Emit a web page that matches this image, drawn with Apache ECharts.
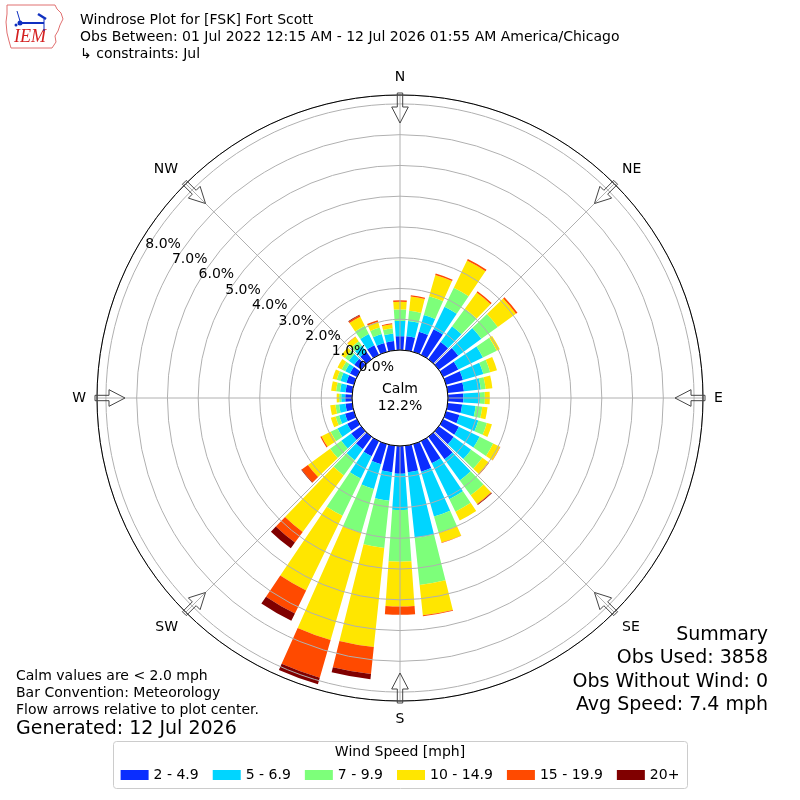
<!DOCTYPE html>
<html>
<head>
<meta charset="utf-8">
<script src="https://cdn.jsdelivr.net/npm/echarts@6/dist/echarts.min.js"></script>
<style>
html, body { margin: 0; background: #fff; }
#main { width: 800px; height: 800px; }
</style>
</head>
<body>
<div id="main"></div>
<script>
// directions (degrees, where the wind comes from)
var dirs = ['0','10','20','30','40','50','60','70','80','90','100','110',
            '120','130','140','150','160','170','180','190','200','210','220','230',
            '240','250','260','270','280','290','300','310','320','330','340','350'];

var speedBins = ['2 - 4.9', '5 - 6.9', '7 - 9.9', '10 - 14.9', '15 - 19.9', '20+'];
var binColors = ['#0a2dff', '#00d5ff', '#7dff7a', '#ffe600', '#ff4a00', '#800000'];

// percent of observations per direction, one array per speed bin
var s2to5 = [0.45,0.46,0.68,0.93,0.69,0.78,0.55,0.57,0.53,0.50,0.47,0.45,
             0.57,0.60,0.90,0.80,0.93,0.87,0.90,0.87,0.68,0.55,0.50,0.40,
             0.35,0.30,0.22,0.22,0.22,0.25,0.25,0.28,0.30,0.35,0.30,0.30];
var s5to7 = [0.50,0.50,0.57,0.81,0.63,0.93,0.89,0.69,0.55,0.54,0.44,0.64,
             0.75,0.70,0.85,1.30,1.52,2.14,1.18,0.93,0.84,0.80,0.44,0.40,
             0.35,0.20,0.21,0.13,0.18,0.20,0.17,0.22,0.25,0.40,0.30,0.25];
var s7to10 = [0.37,0.33,0.63,0.69,0.71,0.66,0.50,0.23,0.16,0.16,0.22,0.29,
              0.49,0.45,0.60,0.45,0.55,1.54,1.68,1.54,1.48,1.35,0.61,0.45,
              0.25,0.12,0.12,0.07,0.13,0.13,0.13,0.15,0.17,0.30,0.22,0.17];
var s10to15 = [0.25,0.47,0.72,0.98,0.65,0.73,0.11,0.23,0.22,0.16,0.17,0.17,
               0.25,0.25,0.35,0.32,0.33,0.99,1.46,3.24,3.62,2.70,2.27,0.89,
               0.33,0.16,0.17,0.08,0.16,0.14,0.15,0.15,0.18,0.33,0.20,0.13];
var s15to20 = [0.05,0.04,0.05,0.06,0.05,0.06,0,0,0,0,0,0,
               0.01,0.02,0.02,0,0.01,0.03,0.27,0.88,1.28,0.83,0.43,0.25,
               0.04,0,0,0,0,0,0,0,0.01,0.05,0.05,0.03];
var s20up = [0,0,0,0,0,0,0,0,0,0,0,0,
             0,0,0.02,0,0,0,0,0.17,0.22,0.27,0.23,0.02,
             0,0,0,0,0,0,0,0,0,0.02,0,0];
var binData = [s2to5, s5to7, s7to10, s10to15, s15to20, s20up];

var calmPct = 12.2;
var radTicks = [0, 1, 2, 3, 4, 5, 6, 7, 8];
var compass = ['N', 'NE', 'E', 'SE', 'S', 'SW', 'W', 'NW'];

var titleLines = [
    'Windrose Plot for [FSK] Fort Scott',
    'Obs Between: 01 Jul 2022 12:15 AM - 12 Jul 2026 01:55 AM America/Chicago',
    '\u21b3 constraints: Jul'
];
var notesLeft = ['Calm values are < 2.0 mph', 'Bar Convention: Meteorology',
                 'Flow arrows relative to plot center.'];
var generated = 'Generated: 12 Jul 2026';
var summary = ['Summary', 'Obs Used: 3858', 'Obs Without Wind: 0', 'Avg Speed: 7.4 mph'];

// layout
var cx = 400, cy = 398, rIn = 48, rOut = 303, rMax = 8.29;
var FONT = 'DejaVu Sans';

var myChart = echarts.init(document.getElementById('main'));

var series = speedBins.map(function (name, i) {
    return {
        name: name,
        type: 'bar',
        coordinateSystem: 'polar',
        polarIndex: 0,
        stack: 'wind',
        barCategoryGap: '20%',
        silent: true,
        itemStyle: { color: binColors[i] },
        data: binData[i]
    };
});

myChart.setOption({
    animation: false,
    textStyle: { fontFamily: FONT },
    polar: [
        { center: [cx, cy], radius: [rIn, rOut] },
        { center: [cx, cy], radius: [rIn, rOut] }
    ],
    angleAxis: [
        {
            polarIndex: 0, type: 'category', data: dirs,
            startAngle: 95, clockwise: true, boundaryGap: true, show: false
        },
        {
            polarIndex: 1, type: 'value', min: 0, max: 360, interval: 45,
            startAngle: 90, clockwise: true, z: 5,
            axisLine: { lineStyle: { color: '#000', width: 1 } },
            axisTick: { show: false },
            axisLabel: {
                margin: 11, fontSize: 14, color: '#000', fontFamily: FONT,
                formatter: function (v) { return v >= 360 ? '' : compass[Math.round(v / 45) % 8]; }
            },
            splitLine: { lineStyle: { color: '#b0b0b0', width: 1 } }
        }
    ],
    radiusAxis: [
        { polarIndex: 0, type: 'value', min: 0, max: rMax, show: false },
        {
            polarIndex: 1, type: 'value', min: 0, max: rMax, interval: 1, z: 4,
            axisLine: { show: false }, axisTick: { show: false }, axisLabel: { show: false },
            splitLine: { showMinLine: false, showMaxLine: false,
                         lineStyle: { color: '#b0b0b0', width: 1 } }
        }
    ],
    legend: {
        data: speedBins,
        top: 763, left: 'center',
        icon: 'rect', itemWidth: 28, itemHeight: 10, itemGap: 14,
        selectedMode: false,
        textStyle: { fontSize: 14, color: '#000', fontFamily: FONT }
    },
    series: series
});

// radial tick labels along the 300 degree bearing, placed from the axis scale
var tickEls = radTicks.map(function (v) {
    var p = myChart.convertToPixel({ polarIndex: 1 }, [v, 300]);
    if (!p) {
        var rr = rIn + (rOut - rIn) * v / rMax, a = 300 * Math.PI / 180;
        p = [cx + rr * Math.sin(a), cy - rr * Math.cos(a)];
    }
    return {
        type: 'text', x: p[0], y: p[1], z: 20,
        style: { text: v.toFixed(1) + '%', fontSize: 14, fill: '#000', fontFamily: FONT,
                 align: 'left', verticalAlign: 'bottom' }
    };
});

// hollow flow arrows at the 8 compass points, pointing to the center
var arrowShape = [[2, -2.7], [-12, -2.7], [-12, -8.3], [-28, 0], [-12, 8.3], [-12, 2.7], [2, 2.7]];
var arrowEls = compass.map(function (c, i) {
    var b = i * 45 * Math.PI / 180;
    var pts = arrowShape.map(function (q) {
        var rr = rOut + q[0];
        return [cx + rr * Math.sin(b) + q[1] * Math.cos(b),
                cy - rr * Math.cos(b) + q[1] * Math.sin(b)];
    });
    return {
        type: 'polygon', z: 20, silent: true,
        shape: { points: pts },
        style: { fill: 'rgba(255,255,255,0)', stroke: '#444', lineWidth: 1 }
    };
});

var textEls = [];
titleLines.forEach(function (t, i) {
    textEls.push({ type: 'text', x: 80, y: 20 + i * 17, z: 20,
        style: { text: t, fontSize: 14, fill: '#000', fontFamily: FONT, verticalAlign: 'middle' } });
});
notesLeft.forEach(function (t, i) {
    textEls.push({ type: 'text', x: 16, y: 676 + i * 17, z: 20,
        style: { text: t, fontSize: 14, fill: '#000', fontFamily: FONT, verticalAlign: 'middle' } });
});
textEls.push({ type: 'text', x: 16, y: 729, z: 20,
    style: { text: generated, fontSize: 19, fill: '#000', fontFamily: FONT, verticalAlign: 'middle' } });
summary.forEach(function (t, i) {
    textEls.push({ type: 'text', x: 768, y: 635 + i * 23.5, z: 20,
        style: { text: t, fontSize: 19, fill: '#000', fontFamily: FONT,
                 align: 'right', verticalAlign: 'middle' } });
});
textEls.push({ type: 'text', x: cx, y: cy, z: 20,
    style: { text: 'Calm\n' + calmPct.toFixed(1) + '%', fontSize: 14, lineHeight: 17, fill: '#000',
             fontFamily: FONT, align: 'center', verticalAlign: 'middle' } });

// legend frame + title
var legendEls = [
    { type: 'rect', z: 0, shape: { x: 113.5, y: 741.5, width: 574, height: 47, r: 3 },
      style: { fill: '#fff', stroke: '#cccccc', lineWidth: 1 } },
    { type: 'text', x: 400, y: 752, z: 20,
      style: { text: 'Wind Speed [mph]', fontSize: 14, fill: '#000', fontFamily: FONT,
               align: 'center', verticalAlign: 'middle' } }
];

// rough IEM logo
var logoEls = [
    { type: 'polyline', z: 20, shape: { points: [[7,5],[55,5],[57,9],[61,13],[63,19],[60,25],[58,31],
        [55,36],[56,42],[52,48],[11,48],[9,41],[7,33],[6,22],[7,14],[7,5]] },
      style: { stroke: '#e07070', lineWidth: 1, fill: null } },
    { type: 'text', x: 14, y: 37, z: 21,
      style: { text: 'IEM', fontSize: 18, fontStyle: 'italic', fontFamily: 'Liberation Serif',
               fill: '#d42020', verticalAlign: 'middle' } },
    { type: 'line', z: 21, shape: { x1: 20, y1: 23, x2: 44, y2: 23 }, style: { stroke: '#1030c0', lineWidth: 2 } },
    { type: 'circle', z: 21, shape: { cx: 20, cy: 23, r: 2.5 }, style: { fill: '#1030c0' } },
    { type: 'line', z: 21, shape: { x1: 17, y1: 11, x2: 20, y2: 21 }, style: { stroke: '#1030c0', lineWidth: 1 } },
    { type: 'line', z: 21, shape: { x1: 38, y1: 14, x2: 46, y2: 19 }, style: { stroke: '#1030c0', lineWidth: 2.5 } },
    { type: 'line', z: 21, shape: { x1: 44, y1: 19, x2: 44, y2: 31 }, style: { stroke: '#1030c0', lineWidth: 1 } },
    { type: 'circle', z: 21, shape: { cx: 16, cy: 25, r: 1.5 }, style: { fill: '#1030c0' } }
];

myChart.setOption({
    graphic: legendEls.concat(tickEls, arrowEls, textEls, logoEls)
});
</script>
</body>
</html>
